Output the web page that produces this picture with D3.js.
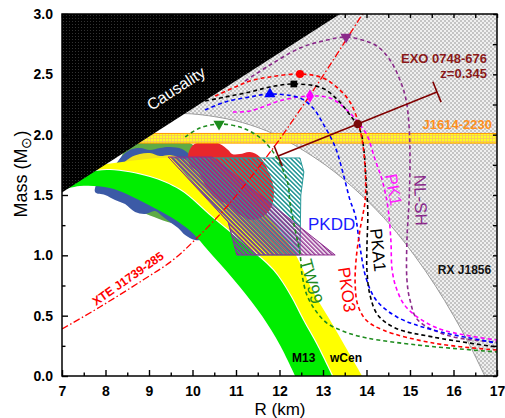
<!DOCTYPE html>
<html>
<head>
<meta charset="utf-8">
<script src="https://cdn.jsdelivr.net/npm/d3@7"></script>
<style>
  html, body { margin: 0; padding: 0; background: #fff; }
  svg { display: block; font-family: "Liberation Sans", Arial, Helvetica, sans-serif; }
</style>
</head>
<body>
<svg id="chart" width="505" height="418"></svg>
<script>
// ---------------- data (R in km, M in solar masses) ----------------
const xTicks = [7, 8, 9, 10, 11, 12, 13, 14, 15, 16, 17];
const yTicks = [0, 0.5, 1.0, 1.5, 2.0, 2.5, 3.0];

// causality limit
const causality = [[7.0, 1.52], [13.39, 3.0]];

// RX J1856 lower boundary (excluded region lies to the right)
const rxj1856Edge = [[9.81, 2.175], [10.0, 2.172], [10.5, 2.15], [11.15, 2.1], [11.9, 2.0],
  [13.05, 1.75], [13.88, 1.5], [14.55, 1.25], [15.1, 1.0], [15.58, 0.75], [16.0, 0.5],
  [16.38, 0.25], [16.72, 0]];

// PSR J1614-2230 mass 1.97 +/- 0.04
const j1614Band = [1.93, 2.01];

// qLMXB bands: M13 and omega Cen
const m13Inner = [[7.0, 1.54], [7.41, 1.575], [8.10, 1.558], [8.86, 1.442], [9.87, 1.226],
  [10.47, 0.994], [11.09, 0.738], [11.60, 0.497], [12.01, 0.257], [12.36, 0]];
const m13Outer = [[7.0, 1.64], [7.60, 1.69], [8.10, 1.707], [9.02, 1.649], [9.71, 1.541],
  [10.47, 1.309], [11.21, 1.086], [11.85, 0.878], [12.24, 0.671], [12.54, 0.464],
  [12.86, 0.257], [13.21, 0]];
const wcenOuter = [[7.0, 1.69], [7.41, 1.724], [7.87, 1.749], [8.56, 1.782], [9.48, 1.807],
  [10.40, 1.749], [11.21, 1.541], [11.90, 1.251], [12.40, 0.986], [12.75, 0.713],
  [13.16, 0.464], [13.53, 0.232], [13.90, 0]];

// probability contours
const blobGreen = [[8.29, 1.75], [8.43, 1.86], [8.61, 1.91], [8.79, 1.95], [9.02, 1.96],
  [9.25, 1.955], [9.48, 1.945], [9.71, 1.95], [9.94, 1.93], [10.08, 1.89], [10.17, 1.815],
  [10.29, 1.75], [10.52, 1.67], [10.75, 1.54], [10.52, 1.38], [9.94, 1.25], [9.02, 1.33],
  [8.33, 1.46], [7.99, 1.58]];
const blobBlue = [[8.22, 1.749], [8.38, 1.823], [8.56, 1.873], [8.79, 1.889], [9.02, 1.873],
  [9.25, 1.889], [9.48, 1.898], [9.76, 1.881], [9.94, 1.831], [10.06, 1.765], [10.40, 1.707],
  [10.98, 1.666], [11.37, 1.608], [11.55, 1.500], [11.44, 1.359], [10.98, 1.251],
  [10.40, 1.144], [10.06, 1.127], [9.83, 1.168], [9.67, 1.226], [9.48, 1.276], [9.30, 1.326],
  [9.14, 1.367], [8.91, 1.343], [8.68, 1.359], [8.45, 1.425], [8.22, 1.459], [7.99, 1.500],
  [7.76, 1.525], [7.87, 1.641]];
const blobYellow = [[8.33, 1.724], [8.56, 1.807], [8.79, 1.840], [9.02, 1.848], [9.25, 1.823],
  [9.48, 1.831], [9.71, 1.807], [9.94, 1.757], [10.17, 1.707], [10.17, 1.541], [9.02, 1.583],
  [8.33, 1.624]];
const blobRed = [[9.90, 1.831], [9.99, 1.906], [10.17, 1.939], [10.40, 1.947], [10.63, 1.923],
  [10.82, 1.873], [10.91, 1.840], [11.09, 1.839], [11.32, 1.856], [11.55, 1.815],
  [11.78, 1.666], [11.87, 1.541], [11.83, 1.417], [11.67, 1.334], [11.37, 1.293],
  [11.09, 1.334], [10.82, 1.417], [10.52, 1.475], [10.29, 1.583], [10.13, 1.691],
  [9.94, 1.749]];

// hatched constraint regions
const hatchTeal = [[9.53, 1.807], [12.47, 1.807], [12.56, 1.691], [12.49, 1.500],
  [12.47, 1.003], [11.02, 1.003], [10.82, 1.276]];
const hatchPurple = [[9.44, 1.815], [10.45, 1.815], [13.28, 1.003], [11.02, 1.003],
  [10.82, 1.276]];

// XTE J1739-285 spin limit
const xteCurve = [[7.0, 0.389], [7.87, 0.572], [8.86, 0.795], [9.55, 0.961], [10.10, 1.143],
  [10.86, 1.433], [11.94, 1.930], [12.31, 2.121], [12.98, 2.477], [13.92, 3.007]];

// EXO 0748-676, z = 0.345
const exoLine = [[11.97, 1.823], [15.62, 2.354]];
const exoPoint = [13.80, 2.088];

// mass-radius relations
const eosNLSH = [[11.21, 2.445], [11.78, 2.577], [12.47, 2.718], [13.09, 2.784], [13.53, 2.809],
  [13.90, 2.785], [14.24, 2.735], [14.54, 2.619], [14.77, 2.453], [14.91, 2.288],
  [14.98, 2.063], [15.00, 1.790], [14.98, 1.459], [14.93, 1.127], [14.93, 0.796],
  [15.00, 0.630], [15.18, 0.464], [15.92, 0.331], [17.0, 0.282]];
const eosPK1 = [[10.93, 2.188], [11.32, 2.196], [12.08, 2.288], [12.70, 2.320], [13.16, 2.304],
  [13.55, 2.204], [13.80, 2.105], [14.01, 1.997], [14.20, 1.790], [14.36, 1.624],
  [14.49, 1.401], [14.56, 1.127], [14.59, 0.878], [14.70, 0.713], [14.93, 0.564],
  [15.62, 0.398], [17.0, 0.298]];
const eosPKDD = [[10.29, 2.204], [10.75, 2.271], [11.32, 2.312], [11.78, 2.337], [12.47, 2.304],
  [12.77, 2.221], [12.98, 2.105], [13.28, 1.898], [13.46, 1.682], [13.62, 1.459],
  [13.74, 1.334], [13.85, 1.069], [13.99, 0.812], [14.22, 0.630], [14.70, 0.489],
  [15.53, 0.381], [17.0, 0.273]];
const eosPKA1 = [[10.29, 2.279], [10.75, 2.312], [11.32, 2.354], [11.78, 2.395], [12.33, 2.420],
  [12.98, 2.387], [13.34, 2.288], [13.62, 2.163], [13.85, 2.039], [13.94, 1.873],
  [13.99, 1.624], [14.03, 1.351], [14.01, 1.069], [14.01, 0.878], [14.08, 0.671],
  [14.26, 0.505], [14.66, 0.398], [15.53, 0.323], [17.0, 0.240]];
const eosPKO3 = [[10.52, 2.320], [10.98, 2.395], [11.32, 2.445], [11.78, 2.478], [12.47, 2.503],
  [13.00, 2.470], [13.39, 2.370], [13.62, 2.271], [13.78, 2.138], [13.90, 1.956],
  [13.97, 1.707], [13.97, 1.459], [13.85, 1.210], [13.76, 0.961], [13.74, 0.754],
  [13.80, 0.588], [13.99, 0.464], [14.38, 0.381], [15.53, 0.273], [17.0, 0.215]];
const eosTW99 = [[9.83, 1.981], [10.17, 2.055], [10.61, 2.088], [11.09, 2.063], [11.39, 2.014],
  [11.62, 1.956], [11.90, 1.831], [12.08, 1.707], [12.20, 1.583], [12.24, 1.434],
  [12.36, 1.210], [12.47, 1.019], [12.52, 0.837], [12.63, 0.671], [12.82, 0.547],
  [13.09, 0.439], [13.51, 0.365], [14.01, 0.315], [15.16, 0.257], [16.15, 0.224],
  [17.0, 0.199]];

// maximum-mass configurations
const maxNLSH = [13.53, 2.809];
const maxPK1 = [12.70, 2.320];
const maxPKDD = [11.78, 2.337];
const maxPKA1 = [12.33, 2.420];
const maxPKO3 = [12.47, 2.503];
const maxTW99 = [10.61, 2.088];

// ---------------- layout ----------------
const svg = d3.select("#chart");
const x = d3.scaleLinear().domain([7, 17]).range([62, 497]);
const y = d3.scaleLinear().domain([0, 3]).range([376, 14]);
const FONT = '"Liberation Sans", Arial, Helvetica, sans-serif';

const defs = svg.append("defs");
defs.append("clipPath").attr("id", "plotClip")
  .append("rect").attr("x", 62).attr("y", 14).attr("width", 435).attr("height", 362);

// textures
const pCaus = defs.append("pattern").attr("id", "causalPat")
  .attr("patternUnits", "userSpaceOnUse").attr("width", 3).attr("height", 3);
pCaus.append("rect").attr("width", 3).attr("height", 3).attr("fill", "#000");
pCaus.append("rect").attr("width", 1).attr("height", 1).attr("fill", "#333");

const pGrey = defs.append("pattern").attr("id", "greyPat")
  .attr("patternUnits", "userSpaceOnUse").attr("width", 4).attr("height", 4);
pGrey.append("rect").attr("width", 4).attr("height", 4).attr("fill", "#f0f0f0");
pGrey.append("rect").attr("width", 2).attr("height", 2).attr("fill", "#c4c4c4");
pGrey.append("rect").attr("x", 2).attr("y", 2).attr("width", 2).attr("height", 2).attr("fill", "#c4c4c4");

const pJ = defs.append("pattern").attr("id", "j1614Pat")
  .attr("patternUnits", "userSpaceOnUse").attr("width", 3).attr("height", 3);
pJ.append("rect").attr("width", 3).attr("height", 3).attr("fill", "#ffff20");
pJ.append("path").attr("d", "M0,0.5H3M0.5,0V3").attr("stroke", "#f6c85a").attr("stroke-width", 0.9);

function hatch(id, color, gap, angle, w) {
  const p = defs.append("pattern").attr("id", id)
    .attr("patternUnits", "userSpaceOnUse").attr("width", gap).attr("height", gap)
    .attr("patternTransform", `rotate(${angle})`);
  p.append("line").attr("x1", 0.8).attr("y1", 0).attr("x2", 0.8).attr("y2", gap)
    .attr("stroke", color).attr("stroke-width", w);
}
hatch("tealHatch", "#2a9a9a", 3.2, -45, 1.6);
hatch("purpleHatch", "#8e2d8e", 3.0, -45, 1.5);

const plot = svg.append("g").attr("clip-path", "url(#plotClip)");

const line = d3.line().x(d => x(d[0])).y(d => y(d[1])).curve(d3.curveCatmullRom.alpha(0.5));
const closedBlob = d3.line().x(d => x(d[0])).y(d => y(d[1])).curve(d3.curveCatmullRomClosed.alpha(0.5));
const polygon = pts => "M" + pts.map(d => `${x(d[0])},${y(d[1])}`).join("L") + "Z";
function bandPath(a, b) {
  const pa = line(a);
  const pb = line(b.slice().reverse());
  return pa + "L" + pb.slice(1) + "Z";
}

// RX J1856 excluded region
const rxPath = line(rxj1856Edge) +
  [[17, 0], [17, 3], [7, 3]].map(d => `L${x(d[0])},${y(d[1])}`).join("") + "Z";
plot.append("path").attr("d", rxPath).attr("fill", "url(#greyPat)");
plot.append("path").attr("d", line(rxj1856Edge)).attr("fill", "none")
  .attr("stroke", "#9a9a9a").attr("stroke-width", 1);

// contours beneath the bands
plot.append("path").attr("d", closedBlob(blobGreen)).attr("fill", "#5fab45");
plot.append("path").attr("d", closedBlob(blobBlue)).attr("fill", "#3c5aa6");
plot.append("path").attr("d", closedBlob(blobYellow)).attr("fill", "#f3e31c");

// omega Cen and M13 bands
plot.append("path").attr("d", bandPath(wcenOuter, m13Outer)).attr("fill", "#ffff00");
plot.append("path").attr("d", line(m13Outer)).attr("fill", "none")
  .attr("stroke", "#fff").attr("stroke-width", 2.2);
plot.append("path").attr("d", bandPath(m13Outer, m13Inner)).attr("fill", "#00ee00");

// red contour
plot.append("path").attr("d", closedBlob(blobRed)).attr("fill", "#e8262b");

// hatched regions
plot.append("path").attr("d", polygon(hatchTeal)).attr("fill", "url(#tealHatch)")
  .attr("stroke", "#2a9a9a").attr("stroke-width", 1);
plot.append("path").attr("d", polygon(hatchPurple)).attr("fill", "url(#purpleHatch)")
  .attr("stroke", "#8e2d8e").attr("stroke-width", 1);

// J1614-2230 band
plot.append("rect")
  .attr("x", x(7)).attr("width", x(17) - x(7))
  .attr("y", y(j1614Band[1])).attr("height", y(j1614Band[0]) - y(j1614Band[1]))
  .attr("fill", "url(#j1614Pat)").attr("stroke", "#ff9a00").attr("stroke-width", 1);

// XTE J1739-285
plot.append("path").attr("d", line(xteCurve)).attr("fill", "none")
  .attr("stroke", "#ff0000").attr("stroke-width", 1.3)
  .attr("stroke-dasharray", "7,2.5,1.5,2.5");

// equations of state
const eos = [
  { pts: eosNLSH, max: maxNLSH, color: "#8b2a8b", sym: d3.symbolTriangle, rot: 180, size: 55 },
  { pts: eosPK1, max: maxPK1, color: "#ff00ff", sym: d3.symbolDiamond, rot: 0, size: 55 },
  { pts: eosPKDD, max: maxPKDD, color: "#0000ff", sym: d3.symbolTriangle, rot: 0, size: 55 },
  { pts: eosPKA1, max: maxPKA1, color: "#000000", sym: d3.symbolSquare, rot: 0, size: 45 },
  { pts: eosPKO3, max: maxPKO3, color: "#ff0000", sym: d3.symbolCircle, rot: 0, size: 50 },
  { pts: eosTW99, max: maxTW99, color: "#1e8c1e", sym: d3.symbolTriangle, rot: 180, size: 55 }
];
eos.forEach(e => {
  plot.append("path").attr("d", line(e.pts)).attr("fill", "none")
    .attr("stroke", e.color).attr("stroke-width", 1.6).attr("stroke-dasharray", "4,3");
});

// causality region
plot.append("path").attr("d", polygon([causality[0], causality[1], [7, 3]]))
  .attr("fill", "url(#causalPat)");

// maximum-mass markers
eos.forEach(e => {
  plot.append("path").attr("d", d3.symbol().type(e.sym).size(e.size)())
    .attr("transform", `translate(${x(e.max[0])},${y(e.max[1])}) rotate(${e.rot})`)
    .attr("fill", e.color);
});

// EXO 0748-676 constant-redshift segment
const ex0 = [x(exoLine[0][0]), y(exoLine[0][1])];
const ex1 = [x(exoLine[1][0]), y(exoLine[1][1])];
plot.append("line").attr("x1", ex0[0]).attr("y1", ex0[1]).attr("x2", ex1[0]).attr("y2", ex1[1])
  .attr("stroke", "#800000").attr("stroke-width", 1.6);
{
  const dx = ex1[0] - ex0[0], dy = ex1[1] - ex0[1], L = Math.hypot(dx, dy);
  const px = -dy / L * 11, py = dx / L * 11;
  [ex0, ex1].forEach(p => {
    plot.append("line").attr("x1", p[0] - px).attr("y1", p[1] - py)
      .attr("x2", p[0] + px).attr("y2", p[1] + py)
      .attr("stroke", "#800000").attr("stroke-width", 1.6);
  });
}
plot.append("circle").attr("cx", x(exoPoint[0])).attr("cy", y(exoPoint[1])).attr("r", 4.3)
  .attr("fill", "#7a0a0a");

// ---------------- labels ----------------
function label(txt, R, M, opts) {
  return svg.append("text")
    .attr("transform", `translate(${x(R)},${y(M)}) rotate(${opts.rot || 0})`)
    .attr("font-size", opts.size).attr("font-weight", opts.bold ? "bold" : "normal")
    .attr("fill", opts.color).attr("text-anchor", opts.anchor || "start")
    .text(txt);
}
label("Causality", 9.69, 2.345, { size: 16, color: "#fff", rot: -33, anchor: "middle" });
label("EXO 0748-676", 16.77, 2.594, { size: 13, bold: true, color: "#8b1a1a", anchor: "end" });
label("z=0.345", 16.77, 2.470, { size: 13, bold: true, color: "#8b1a1a", anchor: "end" });
label("J1614-2230", 16.885, 2.047, { size: 13, bold: true, color: "#ff9020", anchor: "end" });
label("XTE J1739-285", 7.78, 0.58, { size: 12, bold: true, color: "#ff0000", rot: -35 });
label("RX J1856", 15.64, 0.845, { size: 12, bold: true, color: "#111" });
label("M13", 12.29, 0.116, { size: 12, bold: true, color: "#000" });
label("wCen", 13.16, 0.116, { size: 12, bold: true, color: "#000" });
label("PKDD", 12.655, 1.21, { size: 17, color: "#1a1aff" });
label("PKA1", 14.08, 1.218, { size: 17, color: "#000", rot: 84 });
label("PKO3", 13.345, 0.895, { size: 17, color: "#ff0000", rot: 82 });
label("TW99", 12.47, 0.953, { size: 17, color: "#228b22", rot: 75 });
label("PK1", 14.425, 1.666, { size: 17, color: "#ff22ff", rot: 80 });
label("NL-SH", 15.09, 1.666, { size: 17, color: "#8b2a8b", rot: 88 });

// ---------------- axes ----------------
function styleAxis(g) {
  g.select(".domain").remove();
  g.selectAll(".tick line").attr("stroke", "#000").attr("stroke-width", 1.4);
  g.selectAll(".tick text").attr("font-family", FONT).attr("font-size", 14)
    .attr("font-weight", "bold").attr("fill", "#000");
}
const xMinor = d3.range(7.5, 17, 1);
const yMinor = d3.range(0.25, 3, 0.5);

svg.append("g").attr("transform", "translate(0,376)")
  .call(d3.axisBottom(x).tickValues(xTicks).tickSize(-6).tickPadding(10).tickFormat(d3.format("d")))
  .call(styleAxis);
svg.append("g").attr("transform", "translate(0,376)")
  .call(d3.axisBottom(x).tickValues(xMinor).tickSize(-3.5).tickFormat(""))
  .call(styleAxis);
svg.append("g").attr("transform", "translate(62,0)")
  .call(d3.axisLeft(y).tickValues(yTicks).tickSize(-6).tickPadding(9).tickFormat(d3.format(".1f")))
  .call(styleAxis);
svg.append("g").attr("transform", "translate(62,0)")
  .call(d3.axisLeft(y).tickValues(yMinor).tickSize(-3.5).tickFormat(""))
  .call(styleAxis);
svg.append("g").attr("transform", "translate(0,14)")
  .call(d3.axisTop(x).tickValues(xTicks.concat(xMinor)).tickSize(-4).tickFormat(""))
  .call(styleAxis);
svg.append("g").attr("transform", "translate(497,0)")
  .call(d3.axisRight(y).tickValues(yTicks.concat(yMinor)).tickSize(-4).tickFormat(""))
  .call(styleAxis);

svg.append("rect").attr("x", 62).attr("y", 14).attr("width", 435).attr("height", 362)
  .attr("fill", "none").attr("stroke", "#000").attr("stroke-width", 1.5);

svg.append("text").attr("x", 280).attr("y", 415).attr("text-anchor", "middle")
  .attr("font-size", 17).attr("fill", "#000").text("R (km)");
const yl = svg.append("text").attr("transform", "translate(27,174) rotate(-90)")
  .attr("text-anchor", "middle").attr("font-size", 18).attr("fill", "#000");
yl.append("tspan").text("Mass (M");
yl.append("tspan").attr("font-size", 14).attr("baseline-shift", "-25%").text("\u2299");
yl.append("tspan").text(")");
</script>
</body>
</html>
